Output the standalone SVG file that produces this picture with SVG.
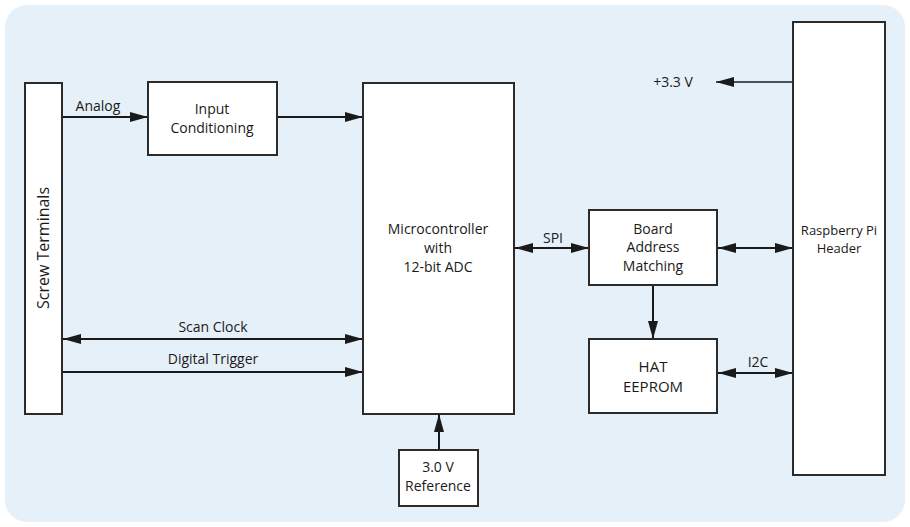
<svg xmlns="http://www.w3.org/2000/svg" width="910" height="527" viewBox="0 0 910 527">
<style>
.box{fill:#fff;stroke:#2b2b2b;stroke-width:2}
.ln{stroke:#1a1a1a;stroke-width:2;fill:none}
.thin{stroke:#1a1a1a;stroke-width:1.4;fill:none}
text{font-family:"Open Sans","Liberation Sans",sans-serif;font-size:14px;fill:#1a1a1a;text-anchor:middle}
.sm{font-size:13px}
.lg{font-size:15px}
.vt{font-size:16px}
</style>
<defs>
<marker id="ah" viewBox="0 0 18 10" refX="18" refY="5" markerWidth="18" markerHeight="10" markerUnits="userSpaceOnUse" orient="auto-start-reverse">
<path d="M0,0 L18,5 L0,10 Z" fill="#1a1a1a"/>
</marker>
</defs>
<rect x="5" y="5" width="900" height="517" rx="22" fill="#e6f0f9"/>
<g id="connectors">
<line class="ln" x1="62" y1="117" x2="148" y2="117" marker-end="url(#ah)"/>
<line class="ln" x1="277" y1="117" x2="363" y2="117" marker-end="url(#ah)"/>
<line class="ln" x1="63" y1="339" x2="363" y2="339" marker-start="url(#ah)" marker-end="url(#ah)"/>
<line class="ln" x1="62" y1="372" x2="363" y2="372" marker-end="url(#ah)"/>
<line class="ln" x1="515" y1="248" x2="589" y2="248" marker-start="url(#ah)" marker-end="url(#ah)"/>
<line class="ln" x1="718" y1="248" x2="793" y2="248" marker-start="url(#ah)" marker-end="url(#ah)"/>
<line class="ln" x1="653" y1="285" x2="653" y2="339" marker-end="url(#ah)"/>
<line class="ln" x1="718" y1="373" x2="793" y2="373" marker-start="url(#ah)" marker-end="url(#ah)"/>
<line class="thin" x1="793" y1="82" x2="716" y2="82" marker-end="url(#ah)"/>
<line class="ln" x1="439" y1="450" x2="439" y2="414" marker-end="url(#ah)"/>
<text x="98" y="111">Analog</text>
<text x="213" y="332">Scan Clock</text>
<text x="213" y="364">Digital Trigger</text>
<text x="553" y="243">SPI</text>
<text x="758" y="367">I2C</text>
<text x="673" y="87">+3.3 V</text>
</g>
<g id="screw-terminals">
<rect class="box" x="25" y="83" width="37" height="331"/>
<text class="vt" transform="translate(49,248) rotate(-90)">Screw Terminals</text>
</g>
<g id="input-conditioning">
<rect class="box" x="148" y="82" width="129" height="73"/>
<text x="212" y="114">Input</text>
<text x="212" y="133">Conditioning</text>
</g>
<g id="microcontroller">
<rect class="box" x="363" y="83" width="151" height="331"/>
<text x="438" y="234">Microcontroller</text>
<text x="438" y="253">with</text>
<text x="438" y="272">12-bit ADC</text>
</g>
<g id="board-address-matching">
<rect class="box" x="589" y="210" width="128" height="75"/>
<text x="653" y="234">Board</text>
<text x="653" y="252">Address</text>
<text x="653" y="271">Matching</text>
</g>
<g id="hat-eeprom">
<rect class="box" x="589" y="339" width="128" height="74"/>
<text class="lg" x="653" y="372">HAT</text>
<text class="lg" x="653" y="392">EEPROM</text>
</g>
<g id="raspberry-pi-header">
<rect class="box" x="793" y="22" width="92" height="453"/>
<text class="sm" x="839" y="235">Raspberry Pi</text>
<text class="sm" x="839" y="253">Header</text>
</g>
<g id="reference">
<rect class="box" x="399" y="450" width="79" height="56"/>
<text x="438" y="472">3.0 V</text>
<text x="438" y="491">Reference</text>
</g>
</svg>
